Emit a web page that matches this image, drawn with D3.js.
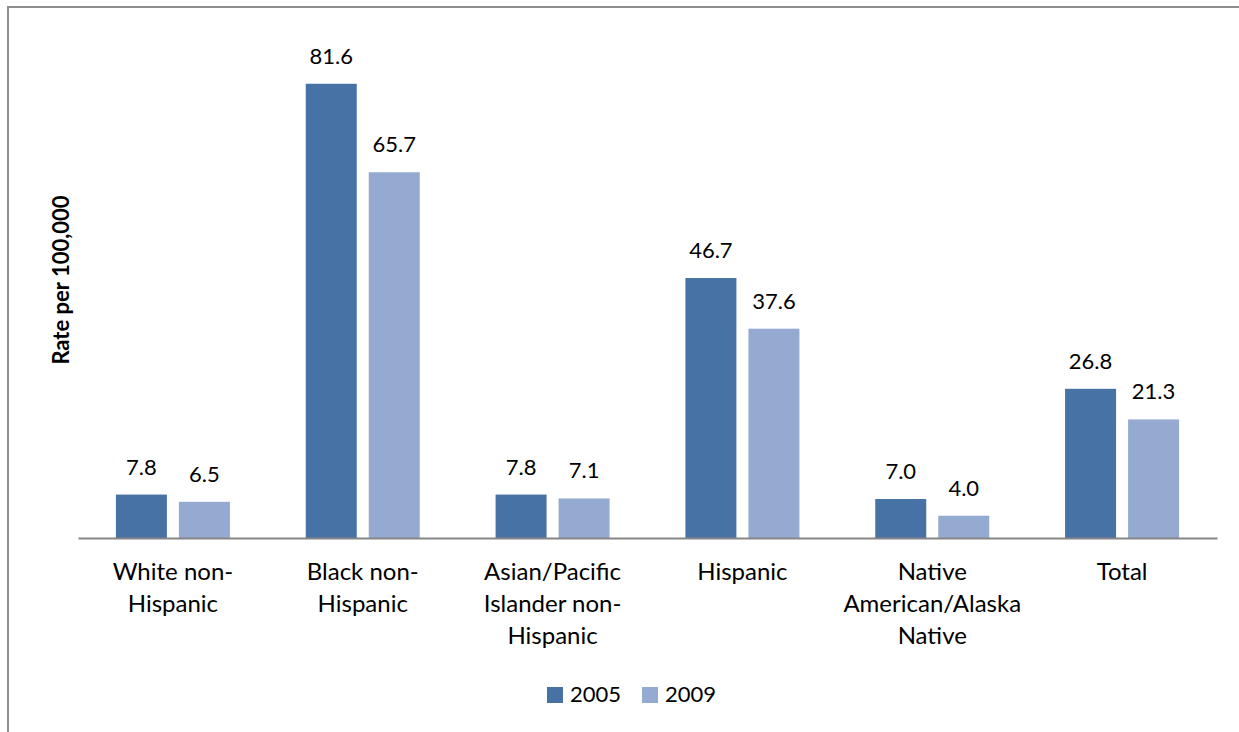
<!DOCTYPE html>
<html>
<head>
<meta charset="utf-8">
<script src="https://cdn.jsdelivr.net/npm/d3@7"></script>
<style>
  html, body { margin: 0; padding: 0; background: #fff; }
  svg { display: block; }
  text { font-family: Lato, "Open Sans", sans-serif; fill: #000; }
</style>
</head>
<body>
<svg id="chart" width="1239" height="732"></svg>
<script>
const categories = [
  "White non-Hispanic",
  "Black non-Hispanic",
  "Asian/Pacific Islander non-Hispanic",
  "Hispanic",
  "Native American/Alaska Native",
  "Total"
];
const categoryLines = [
  ["White non-", "Hispanic"],
  ["Black non-", "Hispanic"],
  ["Asian/Pacific", "Islander non-", "Hispanic"],
  ["Hispanic"],
  ["Native", "American/Alaska", "Native"],
  ["Total"]
];
const seriesNames = ["2005", "2009"];
const values2005 = [7.8, 81.6, 7.8, 46.7, 7.0, 26.8];
const values2009 = [6.5, 65.7, 7.1, 37.6, 4.0, 21.3];
const seriesValues = [values2005, values2009];
const colors = ["#4672A6", "#94AAD0"];
const yTitle = "Rate per 100,000";

const svg = d3.select("#chart");

// frame
svg.append("path")
  .attr("d", "M8,740 L8,7 L1245,7")
  .attr("fill", "none")
  .attr("stroke", "#8e8e8e")
  .attr("stroke-width", 2);

const x = d3.scaleBand().domain(categories).range([78, 1217]).paddingInner(0).paddingOuter(0);
const xs = d3.scaleBand().domain(seriesNames).range([0, x.bandwidth()])
  .paddingInner(0.1905).paddingOuter(0.6017);
const y = d3.scaleLinear().domain([0, 90]).range([538, 37]);

// bars
seriesNames.forEach((s, si) => {
  const g = svg.append("g");
  g.selectAll("rect").data(categories).enter().append("rect")
    .attr("x", c => x(c) + xs(s))
    .attr("y", (c, i) => y(seriesValues[si][i]))
    .attr("width", xs.bandwidth())
    .attr("height", (c, i) => y(0) - y(seriesValues[si][i]))
    .attr("fill", colors[si]);
  g.selectAll("text").data(categories).enter().append("text")
    .attr("x", c => x(c) + xs(s) + xs.bandwidth() / 2)
    .attr("y", (c, i) => y(seriesValues[si][i]) - 20)
    .attr("text-anchor", "middle")
    .style("font-size", "22px")
    .text((c, i) => seriesValues[si][i].toFixed(1));
});

// x axis
const ax = svg.append("g").attr("transform", "translate(0,538)")
  .call(d3.axisBottom(x).tickSize(0).tickSizeOuter(0));
ax.select(".domain").attr("stroke", "#868686").attr("stroke-width", 2);
ax.selectAll(".tick text").each(function(d, i) {
  const t = d3.select(this);
  t.text(null).attr("y", 0).attr("dy", null)
    .style("font-size", "24px").style("font-family", "Lato, 'Open Sans', sans-serif").attr("fill", "#000");
  categoryLines[i].forEach((ln, k) => {
    t.append("tspan").attr("x", 0).attr("y", 42 + k * 32).text(ln);
  });
});

// y title
svg.append("text")
  .attr("transform", "translate(69,280) rotate(-90)")
  .attr("text-anchor", "middle")
  .style("font-size", "22px")
  .style("font-weight", "bold")
  .text(yTitle);

// legend
const legendX = [547, 642];
seriesNames.forEach((s, si) => {
  svg.append("rect").attr("x", legendX[si]).attr("y", 687).attr("width", 16).attr("height", 16).attr("fill", colors[si]);
  svg.append("text").attr("x", legendX[si] + 23).attr("y", 702).style("font-size", "22px").text(s);
});
</script>
</body>
</html>
